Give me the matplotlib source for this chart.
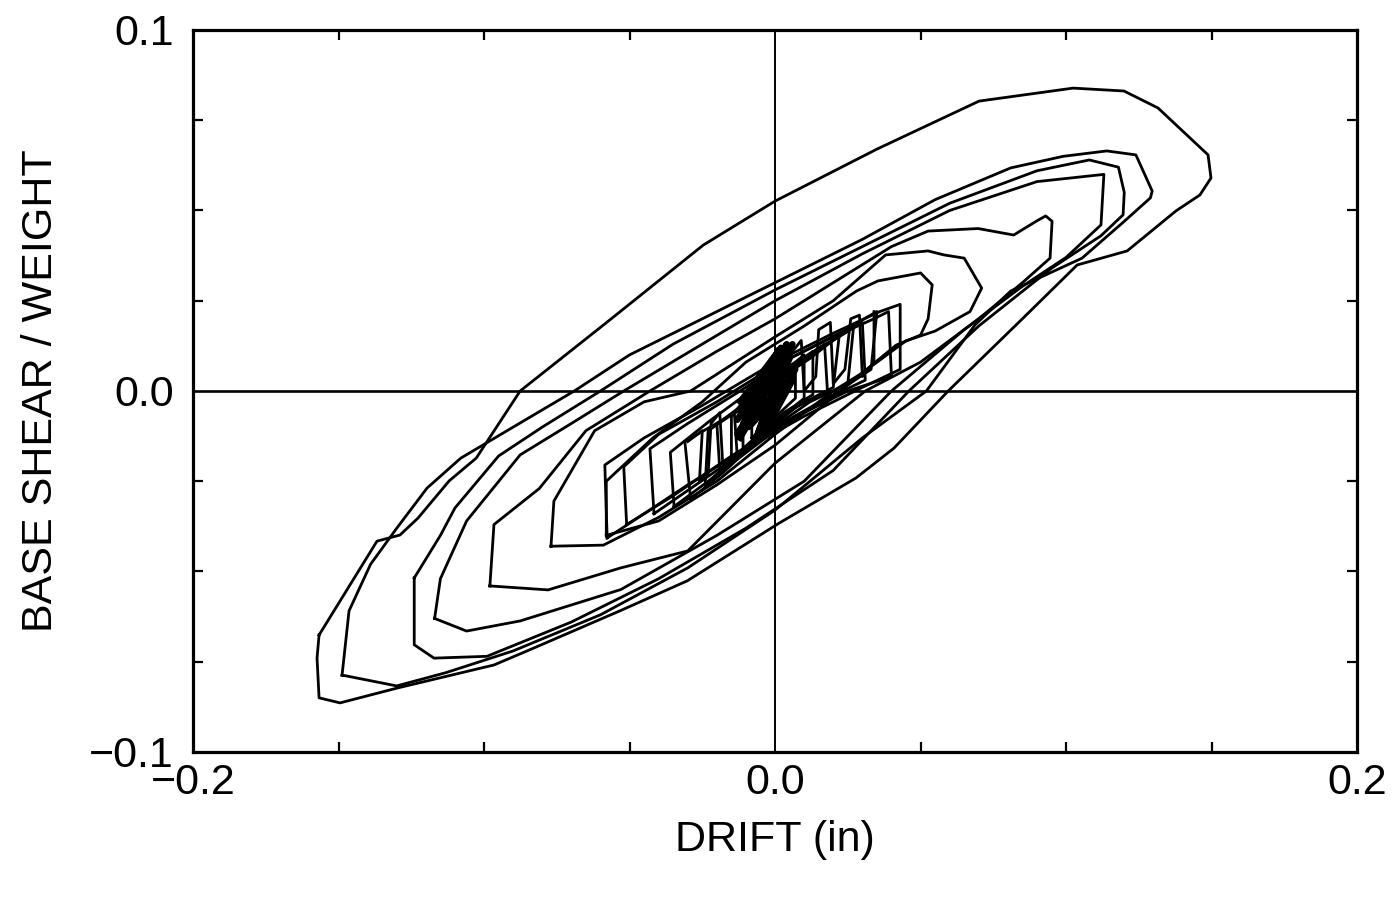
import matplotlib
matplotlib.use('Agg')
import matplotlib.pyplot as plt
from matplotlib.ticker import MultipleLocator

FONT = ['Liberation Sans Narrow', 'Liberation Sans', 'DejaVu Sans']

# hysteresis loops (drift in inches, base shear / weight)
loop1_x = [-0.1567, -0.1368, -0.1289, -0.1227, -0.1120, -0.1027, -0.0876, -0.0577, -0.0247, 0.0,
           0.035, 0.0701, 0.1024, 0.1199, 0.1316, 0.1488, 0.1498, 0.1460, 0.1378, 0.1210, 0.1038,
           0.085, 0.0595, 0.0409, 0.0278, 0.0014, -0.0302, -0.0533, -0.0852, -0.0966, -0.1299,
           -0.1495, -0.1567, -0.1574, -0.1567]
loop1_y = [-0.0676, -0.0416, -0.0399, -0.0352, -0.0249, -0.0186, 0.0, 0.0191, 0.0404, 0.0526,
           0.067, 0.0803, 0.0839, 0.0831, 0.0784, 0.0654, 0.0590, 0.0543, 0.0499, 0.0388, 0.0349,
           0.020, 0.0, -0.0158, -0.0241, -0.0366, -0.0526, -0.0609, -0.0720, -0.0759, -0.0823,
           -0.0864, -0.0850, -0.074, -0.0676]

loop2_x = [-0.1488, -0.1464, -0.139, -0.130, -0.1196, -0.108, -0.090, -0.069, -0.050, -0.025, 0.0,
           0.030, 0.055, 0.081, 0.099, 0.114, 0.124, 0.1296, 0.129, 0.120, 0.1055, 0.081, 0.0687,
           0.052, 0.030, 0.0, -0.030, -0.060, -0.090, -0.113, -0.130, -0.1488]
loop2_y = [-0.0787, -0.0609, -0.048, -0.038, -0.0269, -0.0186, -0.010, 0.0, 0.010, 0.020, 0.030,
           0.042, 0.053, 0.0618, 0.065, 0.0665, 0.0654, 0.0554, 0.0535, 0.047, 0.0368, 0.0277, 0.0183,
           0.0, -0.013, -0.033, -0.049, -0.062, -0.072, -0.078, -0.0817, -0.0787]

loop3_x = [-0.124, -0.115, -0.110, -0.095, -0.080, -0.060, -0.035, 0.0, 0.030, 0.060, 0.090, 0.108,
           0.118, 0.120, 0.1196, 0.112, 0.095, 0.070, 0.046, 0.020, -0.010, -0.040, -0.070, -0.099,
           -0.1172, -0.124, -0.124]
loop3_y = [-0.0518, -0.040, -0.0324, -0.018, -0.010, 0.0, 0.013, 0.028, 0.040, 0.052, 0.061, 0.064,
           0.062, 0.055, 0.0488, 0.043, 0.034, 0.018, 0.0, -0.022, -0.038, -0.052, -0.064, -0.0735,
           -0.074, -0.0703, -0.0518]

loop4_x = [-0.117, -0.115, -0.106, -0.0876, -0.070, -0.052, -0.025, 0.0, 0.030, 0.060, 0.090, 0.113,
           0.112, 0.100, 0.085, 0.065, 0.040, 0.010, -0.020, -0.053, -0.0876, -0.106, -0.117]
loop4_y = [-0.063, -0.052, -0.036, -0.0177, -0.009, 0.0, 0.013, 0.025, 0.038, 0.050, 0.058, 0.060,
           0.046, 0.037, 0.029, 0.017, 0.0, -0.025, -0.040, -0.055, -0.0637, -0.0665, -0.063]

loop5_x = [-0.098, -0.0966, -0.081, -0.065, -0.043, -0.020, 0.0, 0.020, 0.040, 0.0526, 0.0698, 0.082,
           0.0897, 0.093, 0.0952, 0.0945, 0.085, 0.070, 0.050, 0.031, 0.0, -0.030, -0.053, -0.078, -0.098]
loop5_y = [-0.054, -0.037, -0.027, -0.011, 0.0, 0.011, 0.020, 0.030, 0.040, 0.0443, 0.045, 0.0432,
           0.047, 0.0485, 0.047, 0.0368, 0.030, 0.020, 0.008, 0.0, -0.020, -0.0443, -0.049, -0.0551, -0.054]

loop6_x = [-0.077, -0.076, -0.062, -0.045, -0.029, 0.0, 0.020, 0.038, 0.0526, 0.058, 0.065, 0.071,
           0.067, 0.055, 0.045, 0.030, 0.020, 0.0, -0.020, -0.040, -0.059, -0.077]
loop6_y = [-0.043, -0.0305, -0.011, -0.003, 0.0, 0.015, 0.025, 0.0377, 0.0388, 0.0377, 0.0368, 0.0285,
           0.022, 0.0166, 0.0139, 0.005, 0.0, -0.012, -0.025, -0.035, -0.0427, -0.043]

loop7_x = [-0.058, -0.058, -0.042, -0.025, -0.010, 0.010, 0.028, 0.0354, 0.050, 0.054, 0.0526, 0.050,
           0.0416, 0.030, 0.015, 0.0, -0.020, -0.040, -0.058]
loop7_y = [-0.040, -0.025, -0.013, -0.003, 0.008, 0.018, 0.0277, 0.0305, 0.0327, 0.0294, 0.020, 0.0155,
           0.0127, 0.005, -0.005, -0.015, -0.026, -0.036, -0.040]

# smaller cycles toward the centre
s1_x = [-0.0577, -0.0585, -0.045, -0.025, 0.0, 0.020, 0.036, 0.043, 0.043, 0.030, 0.010, -0.010, -0.030, -0.045, -0.0577]
s1_y = [-0.0407, -0.0205, -0.013, -0.004, 0.008, 0.016, 0.022, 0.024, 0.006, 0.001, -0.007, -0.016, -0.026, -0.034, -0.0407]
s2_x = [-0.051, -0.052, -0.040, -0.020, 0.0, 0.020, 0.034, 0.039, 0.040, 0.025, 0.005, -0.015, -0.035, -0.051]
s2_y = [-0.037, -0.021, -0.012, -0.003, 0.007, 0.015, 0.020, 0.022, 0.004, 0.0, -0.008, -0.018, -0.029, -0.037]
s3_x = [-0.0416, -0.043, -0.030, -0.012, 0.005, 0.022, 0.035, 0.033, 0.020, 0.0, -0.020, -0.0416]
s3_y = [-0.034, -0.016, -0.009, 0.0, 0.009, 0.016, 0.022, 0.006, -0.001, -0.010, -0.022, -0.034]
s4_x = [-0.0347, -0.036, -0.022, -0.005, 0.012, 0.026, 0.030, 0.031, 0.018, 0.0, -0.018, -0.0347]
s4_y = [-0.032, -0.017, -0.008, 0.002, 0.010, 0.017, 0.019, 0.003, -0.002, -0.011, -0.022, -0.032]
s5_x = [-0.029, -0.031, -0.018, -0.003, 0.012, 0.023, 0.027, 0.025, 0.012, -0.004, -0.017, -0.029]
s5_y = [-0.030, -0.014, -0.008, 0.001, 0.009, 0.016, 0.018, 0.002, -0.003, -0.012, -0.022, -0.030]
s6_x = [-0.024, -0.023, -0.012, 0.002, 0.015, 0.022, 0.020, 0.008, -0.006, -0.016, -0.024]
s6_y = [-0.026, -0.011, -0.005, 0.004, 0.012, 0.015, 0.001, -0.004, -0.013, -0.020, -0.026]
s7_x = [-0.019, -0.020, -0.008, 0.004, 0.014, 0.017, 0.018, 0.006, -0.006, -0.019]
s7_y = [-0.022, -0.009, -0.003, 0.005, 0.011, 0.013, 0.000, -0.005, -0.014, -0.022]
s8_x = [-0.015, -0.015, -0.005, 0.006, 0.013, 0.013, 0.003, -0.007, -0.015]
s8_y = [-0.019, -0.007, 0.0, 0.007, 0.011, -0.001, -0.006, -0.013, -0.019]
s9_x = [-0.011, -0.011, -0.002, 0.007, 0.010, 0.010, 0.001, -0.011]
s9_y = [-0.016, -0.005, 0.002, 0.008, 0.010, -0.002, -0.008, -0.016]
s10_x = [-0.008, -0.008, 0.0, 0.007, 0.007, -0.001, -0.008]
s10_y = [-0.013, -0.003, 0.004, 0.008, -0.002, -0.008, -0.013]

# scribbles of the many tiny cycles (right comb, left comb, black core)
comb_r_x = [0.005, 0.009, 0.010, 0.014, 0.015, 0.019, 0.020, 0.024, 0.026, 0.029, 0.030, 0.034, 0.034]
comb_r_y = [0.010, 0.014, 0.000, 0.004, 0.017, 0.019, 0.002, 0.006, 0.020, 0.021, 0.004, 0.008, 0.022]
comb_l_x = [-0.010, -0.014, -0.013, -0.018, -0.019, -0.022, -0.023, -0.026, -0.025, -0.030]
comb_l_y = [-0.002, -0.006, -0.018, -0.020, -0.006, -0.009, -0.023, -0.025, -0.011, -0.014]
blob_x = [-0.012, 0.003, -0.011, 0.005, -0.009, 0.004, -0.012, 0.006, -0.008, 0.003, -0.010, 0.005,
          -0.006, 0.002, -0.011, 0.004, -0.007, 0.005]
blob_y = [-0.013, 0.008, -0.010, 0.011, -0.006, 0.013, -0.011, 0.004, -0.008, 0.010, -0.004, 0.012,
          -0.012, 0.006, -0.009, 0.002, -0.014, 0.009]
blob2_x = [-0.010, 0.006, -0.013, 0.004, -0.006, 0.007, -0.012, 0.002, -0.009, 0.006, -0.004, 0.005,
           -0.013, 0.001]
blob2_y = [-0.006, 0.013, -0.012, 0.009, -0.013, 0.006, -0.003, 0.012, -0.010, 0.003, -0.012, 0.010,
           -0.008, 0.011]

loops = [(loop1_x, loop1_y), (loop2_x, loop2_y), (loop3_x, loop3_y), (loop4_x, loop4_y),
         (loop5_x, loop5_y), (loop6_x, loop6_y), (loop7_x, loop7_y),
         (s1_x, s1_y), (s2_x, s2_y), (s3_x, s3_y), (s4_x, s4_y), (s5_x, s5_y),
         (s6_x, s6_y), (s7_x, s7_y), (s8_x, s8_y), (s9_x, s9_y), (s10_x, s10_y),
         (comb_r_x, comb_r_y), (comb_l_x, comb_l_y)]

fig = plt.figure(figsize=(13.95, 8.98), dpi=100)
ax = fig.add_axes([0.1384, 0.1626, 0.8344, 0.804])

for lx, ly in loops:
    ax.plot(lx, ly, color='black', lw=2.0, solid_joinstyle='round')
ax.plot(blob_x, blob_y, color='black', lw=4.5)
ax.plot(blob2_x, blob2_y, color='black', lw=4.5)

ax.axhline(0, color='black', lw=1.9)
ax.axvline(0, color='black', lw=1.4)

ax.set_xlim(-0.2, 0.2)
ax.set_ylim(-0.1, 0.1)
ax.set_xticks([-0.2, 0.0, 0.2])
ax.set_xticklabels(['\u22120.2', '0.0', '0.2'])
ax.set_yticks([-0.1, 0.0, 0.1])
ax.set_yticklabels(['\u22120.1', '0.0', '0.1'])
ax.xaxis.set_minor_locator(MultipleLocator(0.05))
ax.yaxis.set_minor_locator(MultipleLocator(0.025))
ax.tick_params(which='both', direction='in', top=True, right=True, width=1.6)
ax.tick_params(which='major', length=0)
ax.tick_params(which='minor', length=7)
ax.tick_params(axis='x', pad=8)
ax.tick_params(axis='y', pad=14)
for lab in ax.get_xticklabels() + ax.get_yticklabels():
    lab.set_family(FONT)
    lab.set_fontsize(31)
for sp in ax.spines.values():
    sp.set_linewidth(2.3)

ax.set_xlabel('DRIFT (in)', family=FONT, fontsize=31, labelpad=12)
ax.set_ylabel('BASE SHEAR / WEIGHT', family=FONT, fontsize=31, labelpad=20)

fig.savefig('out.png', dpi=100)
